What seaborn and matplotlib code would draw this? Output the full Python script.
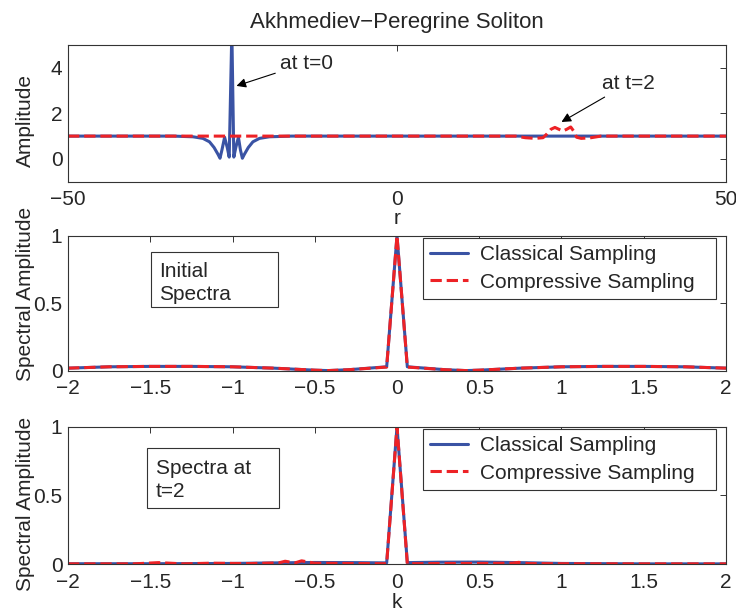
import matplotlib
matplotlib.use("Agg")
import matplotlib.pyplot as plt
import seaborn as sns
from matplotlib.patches import Rectangle

# ---------------- data ----------------
r_t0 = [-50, -34, -31, -29.5, -28.5, -27.8, -27.2, -26.9, -26.6, -26.2, -25.8, -25.5,
        -25.1, -24.8, -24.5, -24.1, -23.8, -23.5, -23.2, -22.6, -21.9, -20.9, -19.4, -16, 50]
amp_t0 = [1.0, 1.0, 0.97, 0.9, 0.75, 0.5, 0.2, 0.03, 0.4, 0.95, 0.5, 0.08,
          5.6, 0.08, 0.5, 0.95, 0.4, 0.03, 0.2, 0.5, 0.75, 0.9, 0.97, 1.0, 1.0]

r_t2 = [-50, 18, 19.5, 21, 22.2, 22.8, 23.4, 24.0, 24.6, 25.2, 25.8, 26.4, 26.9,
        27.3, 28, 29.5, 31, 50]
amp_t2 = [1.0, 1.0, 0.93, 0.9, 0.93, 1.1, 1.3, 1.38, 1.3, 1.22, 1.3, 1.4, 1.2,
          0.95, 0.9, 0.93, 1.0, 1.0]

k_init = [-2, -1.75, -1.5, -1.25, -1, -0.75, -0.5, -0.42, -0.3, -0.0628, 0,
          0.0628, 0.3, 0.42, 0.5, 0.75, 1, 1.25, 1.5, 1.75, 2]
spec_init_classical = [0.02, 0.03, 0.033, 0.033, 0.03, 0.02, 0.005, 0.002, 0.008, 0.03, 1.0,
                       0.03, 0.008, 0.002, 0.005, 0.02, 0.03, 0.033, 0.033, 0.03, 0.02]
spec_init_compressive = [0.02, 0.03, 0.033, 0.033, 0.03, 0.02, 0.005, 0.002, 0.008, 0.028, 1.0,
                         0.028, 0.008, 0.002, 0.005, 0.02, 0.03, 0.033, 0.033, 0.03, 0.02]

k_t2_classical = [-2, -1.5, -1, -0.75, -0.5, -0.25, -0.0628, 0, 0.0628, 0.25, 0.5, 0.75, 1, 1.5, 2]
spec_t2_classical = [0.004, 0.004, 0.006, 0.01, 0.013, 0.012, 0.01, 1.0,
                     0.012, 0.015, 0.016, 0.012, 0.006, 0.003, 0.003]
k_t2_compressive = [-2, -1.6, -1.45, -1.3, -1.13, -0.9, -0.72, -0.68, -0.62, -0.58, -0.5,
                    -0.3, -0.0628, 0, 0.0628, 0.3, 0.5, 0.7, 0.74, 0.8, 1.0, 1.5, 2]
spec_t2_compressive = [0.003, 0.003, 0.012, 0.003, 0.008, 0.005, 0.01, 0.022, 0.01, 0.025, 0.008,
                       0.006, 0.004, 1.0, 0.004, 0.006, 0.006, 0.008, 0.014, 0.005, 0.004, 0.003, 0.003]

series_labels = ["Classical Sampling", "Compressive Sampling"]
title_text = "Akhmediev\u2212Peregrine Soliton"

# ---------------- style ----------------
sns.set_style("white")
plt.rcParams["font.family"] = ["Liberation Sans", "DejaVu Sans"]
plt.rcParams["axes.unicode_minus"] = True

BLUE = "#3a53a4"
RED = "#ed2226"
EDGE = "#333333"
FS = 15
LW = 2.2

fig = plt.figure(figsize=(7.36, 6.14), dpi=100)
ax1 = fig.add_axes([0.0924, 0.704, 0.894, 0.223])
ax2 = fig.add_axes([0.0924, 0.396, 0.894, 0.220])
ax3 = fig.add_axes([0.0924, 0.081, 0.894, 0.224])


def style(ax):
    for s in ax.spines.values():
        s.set_color(EDGE)
        s.set_linewidth(0.8)
        s.set_visible(True)
    ax.tick_params(direction="in", top=True, right=True, length=4.5, width=0.7,
                   color=EDGE, labelsize=FS, pad=4)
    ax.tick_params(axis="x", pad=6)
    ax.set_facecolor("white")


# top panel
sns.lineplot(x=r_t0, y=amp_t0, ax=ax1, color=BLUE, lw=LW, legend=False)
sns.lineplot(x=r_t2, y=amp_t2, ax=ax1, color=RED, lw=LW, linestyle="--", legend=False)
ax1.set_xlim(-50, 50)
ax1.set_ylim(-1, 5)
ax1.set_xticks([-50, 0, 50])
ax1.set_yticks([0, 2, 4])
ax1.set_xlabel("r", fontsize=FS, labelpad=0)
ax1.set_ylabel("Amplitude", fontsize=FS)
ax1.yaxis.set_label_coords(-0.05, 0.45)
ax1.set_title(title_text, fontsize=16, pad=12)
style(ax1)
ax1.annotate("at t=0", xy=(-24.4, 3.2), xytext=(-17.8, 4.2), fontsize=FS,
             ha="left", va="center",
             arrowprops=dict(arrowstyle="-|>", color="k", lw=0.8, mutation_scale=14,
                             shrinkA=1, shrinkB=0))
ax1.annotate("at t=2", xy=(25.0, 1.62), xytext=(31.1, 3.3), fontsize=FS,
             ha="left", va="center",
             arrowprops=dict(arrowstyle="-|>", color="k", lw=0.8, mutation_scale=14,
                             shrinkA=1, shrinkB=0))


def spectra(ax, kc, yc, kp, yp, boxtext, box, label_y, text_off):
    sns.lineplot(x=kc, y=yc, ax=ax, color=BLUE, lw=LW, label=series_labels[0])
    sns.lineplot(x=kp, y=yp, ax=ax, color=RED, lw=LW, linestyle="--", label=series_labels[1])
    ax.set_xlim(-2, 2)
    ax.set_ylim(0, 1)
    ax.set_xticks([-2, -1.5, -1, -0.5, 0, 0.5, 1, 1.5, 2])
    ax.set_xticklabels(["\u22122", "\u22121.5", "\u22121", "\u22120.5", "0", "0.5", "1", "1.5", "2"])
    ax.set_yticks([0, 0.5, 1])
    ax.set_yticklabels(["0", "0.5", "1"])
    ax.set_ylabel("Spectral Amplitude", fontsize=FS)
    ax.yaxis.set_label_coords(-0.05, label_y)
    style(ax)
    leg = ax.legend(loc="upper left", bbox_to_anchor=(0.5395, 0.0, 0.4455, 0.983),
                    mode="expand", borderaxespad=0, fontsize=FS, frameon=True,
                    fancybox=False, edgecolor=EDGE, framealpha=1,
                    handlelength=1.8, handletextpad=0.6, borderpad=0.35,
                    labelspacing=0.4)
    leg.get_frame().set_linewidth(0.8)
    x0, y0, w, h = box
    ax.add_patch(Rectangle((x0, y0), w, h, transform=ax.transAxes, fill=True,
                           facecolor="white", edgecolor=EDGE, lw=0.8, zorder=5))
    ax.text(x0 + 0.013, y0 + h - text_off, boxtext, transform=ax.transAxes, fontsize=FS,
            ha="left", va="top", zorder=6, linespacing=1.3)


spectra(ax2, k_init, spec_init_classical, k_init, spec_init_compressive,
        "Initial\nSpectra", (0.1257, 0.475, 0.194, 0.402), 0.569, 0.07)
spectra(ax3, k_t2_classical, spec_t2_classical, k_t2_compressive, spec_t2_compressive,
        "Spectra at\nt=2", (0.1205, 0.407, 0.200, 0.436), 0.438, 0.075)
ax3.set_xlabel("k", fontsize=FS, labelpad=1)

fig.savefig("out.png", dpi=100)
